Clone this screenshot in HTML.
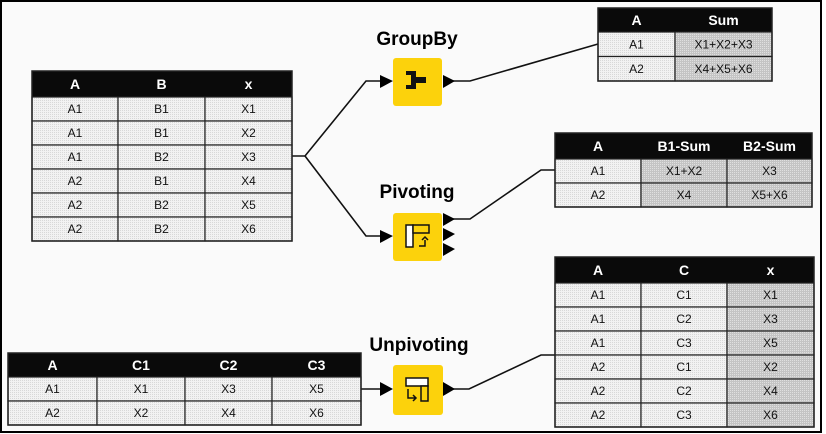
<!DOCTYPE html>
<html><head><meta charset="utf-8"><style>
html,body{margin:0;padding:0;background:#fff;}
svg{display:block;font-family:"Liberation Sans",Arial,sans-serif;}
</style></head><body>
<svg id="s" width="826" height="434" viewBox="0 0 826 434">
<defs>
<pattern id="dots" width="2" height="2" patternUnits="userSpaceOnUse"><rect width="2" height="2" fill="#f2f2f2"/><rect width="1" height="1" fill="#d8d8d8"/></pattern>
<pattern id="dotsDark" width="2" height="2" patternUnits="userSpaceOnUse"><rect width="2" height="2" fill="#c4c4c4"/><rect width="1" height="1" fill="#e0e0e0"/></pattern>
</defs>
<rect x="1" y="1" width="820" height="431" fill="#fafafa" stroke="#000" stroke-width="2"/>
<g id="lines" fill="none" stroke="#111" stroke-width="1.6">
<polyline points="292,156 305,156 366,81 382,81"/>
<polyline points="305,156 366,236 382,236"/>
<polyline points="446,81 470,81 598,44"/>
<polyline points="446,219 470,219 541,170 555,170"/>
<polyline points="361,389 382,389"/>
<polyline points="446,389 469,389 541,355 555,355"/>
</g>
<g id="arrows" fill="#000">
<polygon points="380,75 393,81 380,88"/>
<polygon points="380,230 393,236 380,243"/>
<polygon points="380,382 393,389 380,396"/>
<polygon points="443,75 455,81 443,88"/>
<polygon points="443,213 455,219 443,226"/>
<polygon points="443,228 455,234 443,241"/>
<polygon points="443,243 455,249 443,256"/>
<polygon points="443,382 455,389 443,396"/>
</g>
<g>
<text x="417" y="45" font-size="19" font-weight="bold" text-anchor="middle">GroupBy</text>
<rect x="393" y="58" width="49" height="48" rx="3" fill="#fcd20c"/>
<path d="M406,71 h10 v6 h10 v6 h-10 v6 h-10 v-4 h5 v-10 h-5z" fill="#111"/>
</g>
<g>
<text x="417" y="198" font-size="19" font-weight="bold" text-anchor="middle">Pivoting</text>
<rect x="393" y="213" width="49" height="48" rx="3" fill="#fcd20c"/>
<rect x="406" y="225" width="7" height="22" fill="#fff" stroke="#111" stroke-width="1.5"/>
<rect x="413" y="225" width="16" height="8" fill="#fcd20c" stroke="#111" stroke-width="1.5"/>
<path d="M419,246 h6 v-6 M422,240 l3,-3 l3,3" fill="none" stroke="#111" stroke-width="1.5"/>
</g>
<g>
<text x="419" y="351" font-size="19" font-weight="bold" text-anchor="middle">Unpivoting</text>
<rect x="393" y="365" width="50" height="50" rx="3" fill="#fcd20c"/>
<rect x="406" y="378" width="22" height="8" fill="#fff" stroke="#111" stroke-width="1.5"/>
<rect x="421" y="386" width="7" height="15" fill="#fcd20c" stroke="#111" stroke-width="1.5"/>
<path d="M408,389 v9 h8 M413,395 l3,3 l-3,3" fill="none" stroke="#111" stroke-width="1.5"/>
</g>
<g id="tables"></g>
</svg>
<script>
const tableSpecs = [
 {name:'input-table', x:32, y:71, cols:[86,87,87], hh:26, rh:24, head:['A','B','x'],
  rows:[['A1','B1','X1'],['A1','B1','X2'],['A1','B2','X3'],['A2','B1','X4'],['A2','B2','X5'],['A2','B2','X6']], dark:[]},
 {name:'groupby-result-table', x:598, y:8, cols:[77,97], hh:24, rh:24.5, head:['A','Sum'],
  rows:[['A1','X1+X2+X3'],['A2','X4+X5+X6']], dark:[1]},
 {name:'pivot-result-table', x:555, y:133, cols:[86,86,85], hh:26, rh:24, head:['A','B1-Sum','B2-Sum'],
  rows:[['A1','X1+X2','X3'],['A2','X4','X5+X6']], dark:[1,2]},
 {name:'unpivot-result-table', x:555, y:257, cols:[86,86,87], hh:26, rh:24, head:['A','C','x'],
  rows:[['A1','C1','X1'],['A1','C2','X3'],['A1','C3','X5'],['A2','C1','X2'],['A2','C2','X4'],['A2','C3','X6']], dark:[2]},
 {name:'unpivot-input-table', x:8, y:353, cols:[89,88,87,89], hh:24, rh:24, head:['A','C1','C2','C3'],
  rows:[['A1','X1','X3','X5'],['A2','X2','X4','X6']], dark:[]}
];
const NS='http://www.w3.org/2000/svg';
const root=document.getElementById('tables');
function mk(tag,attrs,parent){const e=document.createElementNS(NS,tag);for(const k in attrs)e.setAttribute(k,attrs[k]);parent.appendChild(e);return e;}
tableSpecs.forEach(t=>{
 const g=mk('g',{},root);
 
 
 const W=t.cols.reduce((a,b)=>a+b,0);
 const hr=mk('rect',{x:t.x,y:t.y,width:W,height:t.hh,fill:'#0a0a0a'},g);
 
 
 let cx=t.x;
 t.cols.forEach((w,i)=>{
  const tx=mk('text',{x:cx+w/2,y:t.y+t.hh/2+5,'font-size':14,'font-weight':'bold',fill:'#fff','text-anchor':'middle'},g);
  tx.textContent=t.head[i];
  
  
  cx+=w;
 });
 t.rows.forEach((r,ri)=>{
  const y=t.y+t.hh+ri*t.rh; let x=t.x;
  r.forEach((v,ci)=>{
   const w=t.cols[ci];
   const c=mk('rect',{x:x,y:y,width:w,height:t.rh,fill:t.dark.includes(ci)?'url(#dotsDark)':'url(#dots)',stroke:'#222','stroke-width':1.2},g);
   
   
   const tx=mk('text',{x:x+w/2,y:y+t.rh/2+4,'font-size':12,fill:'#111','text-anchor':'middle'},g);
   tx.textContent=v;
   
   
   x+=w;
  });
 });
 mk('rect',{x:t.x,y:t.y,width:W,height:t.hh+t.rows.length*t.rh,fill:'none',stroke:'#222','stroke-width':1.5},g);
});
</script>
</body></html>
